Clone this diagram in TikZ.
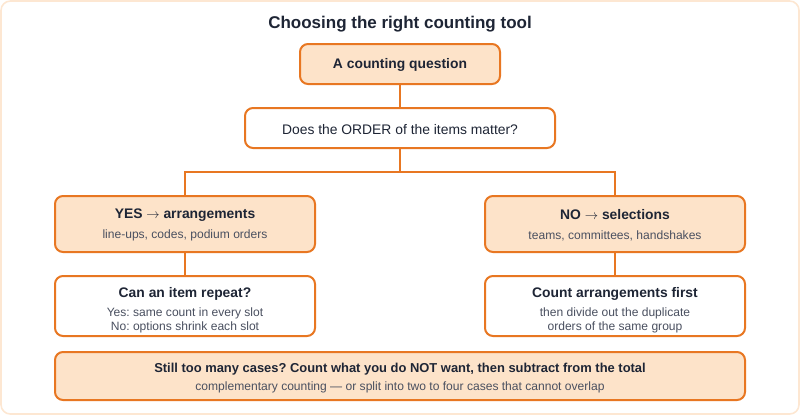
\documentclass[tikz,border=0pt]{standalone}
\usepackage{fontspec}
\setmainfont{Liberation Sans}
\usepackage{xcolor}
\usetikzlibrary{positioning}

\definecolor{edgeorange}{HTML}{E87722}
\definecolor{peach}{HTML}{FDE3C9}
\definecolor{framepeach}{HTML}{FDE7D2}
\definecolor{ink}{HTML}{1E2535}
\definecolor{muted}{HTML}{4A5060}

\newcommand{\headline}[1]{{\fontsize{10.4}{12}\selectfont\bfseries\color{ink}#1}}
\newcommand{\subline}[1]{{\color{muted}#1}}
\newcommand{\toarrow}{\ensuremath{\rightarrow}}

\begin{document}
\frenchspacing
\begin{tikzpicture}[x=0.75pt,y=-0.75pt,
    box/.style={draw=edgeorange, line width=1.5pt, rounded corners=6pt,
        align=center, inner sep=0pt, text=ink,
        font=\fontsize{9.05}{10.5}\selectfont},
    softbox/.style={box, fill=peach},
    plainbox/.style={box, fill=white},
    link/.style={edgeorange, line width=1.5pt}]
    \useasboundingbox (0,0) rectangle (800,415);
    \draw[framepeach, line width=1.2pt, fill=white, rounded corners=7pt] (1,1) rectangle (799,414);

    % title
    \node (title) at (400,24) {\fontsize{12.75}{14}\selectfont\bfseries\color{ink}Choosing the right counting tool};

    % top of the tree
    \node[softbox, minimum width=150pt, minimum height=30pt] (start) at (400,64)
        {\rule{0pt}{9pt}\headline{A counting question}};
    \node[plainbox, minimum width=232.5pt, minimum height=30pt] (order) at (400,128)
        {\rule{0pt}{9.5pt}{\fontsize{10.4}{12}\selectfont Does the ORDER of the items matter?}};
    \coordinate (split) at (400,172);

    % the two branches
    \node[softbox, minimum width=195pt, minimum height=42pt] (yes) at (185,224)
        {\rule{0pt}{9pt}\headline{YES \toarrow{} arrangements}\\[4.5pt]\subline{line-ups, codes, podium orders}};
    \node[softbox, minimum width=195pt, minimum height=42pt] (no) at (615,224)
        {\rule{0pt}{9pt}\headline{NO \toarrow{} selections}\\[4.5pt]\subline{teams, committees, handshakes}};
    \node[plainbox, minimum width=195pt, minimum height=45pt] (repeat) at (185,306)
        {\rule{0pt}{13.5pt}\headline{Can an item repeat?}\\[3.5pt]\subline{Yes: same count in every slot}\\\subline{No: options shrink each slot}};
    \node[plainbox, minimum width=195pt, minimum height=45pt] (divide) at (615,306)
        {\rule{0pt}{13.5pt}\headline{Count arrangements first}\\[3.5pt]\subline{then divide out the duplicate}\\\subline{orders of the same group}};

    % closing hint
    \node[softbox, minimum width=517.5pt, minimum height=36pt] (hint) at (400,376)
        {\rule{0pt}{10pt}{\fontsize{9.7}{12}\selectfont\bfseries Still too many cases? Count what you do NOT want, then subtract from the total}\\[3pt]
         \subline{complementary counting — or split into two to four cases that cannot overlap}};

    % connectors
    \draw[link] (start) -- (order);
    \draw[link] (order) -- (split);
    \draw[link] (yes.north) |- (split) -| (no.north);
    \draw[link] (yes) -- (repeat);
    \draw[link] (no) -- (divide);
\end{tikzpicture}
\end{document}
